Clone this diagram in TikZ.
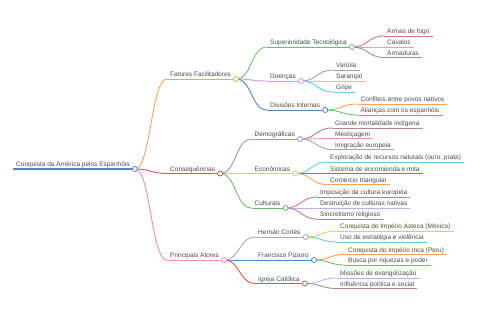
\documentclass[tikz,border=0pt]{standalone}
\usepackage{fontspec}
\setmainfont{Liberation Sans}
\usepackage{xcolor}
\usetikzlibrary{calc}

\definecolor{txtgray}{HTML}{4A4A4A}
\definecolor{cBlue}{HTML}{4F86C6}
\definecolor{cOrange}{HTML}{F5A45D}
\definecolor{cRed}{HTML}{D9534F}
\definecolor{cPink}{HTML}{E88BC8}
\definecolor{cGreen}{HTML}{6DBE6D}
\definecolor{cMagenta}{HTML}{E58FE0}
\definecolor{cRose}{HTML}{E0707E}
\definecolor{cLav}{HTML}{C8A8EC}
\definecolor{cMauve}{HTML}{B38590}
\definecolor{cTaupe}{HTML}{AFA09B}
\definecolor{cYel}{HTML}{D6D64A}
\definecolor{cCyan}{HTML}{63CFE3}
\definecolor{cPurple}{HTML}{A68FD8}
\definecolor{cGray}{HTML}{AAAAAA}

\begin{document}
\begin{tikzpicture}[x=1pt,y=-1pt,
			txt/.style={anchor=south west,font=\fontsize{6.5}{7}\selectfont,text=txtgray,
				inner xsep=3pt,inner ysep=0.6pt,text depth=1.6pt},
			ln/.style={line width=0.9pt},
			dot/.style={circle,draw,fill=white,line width=0.8pt,inner sep=0pt,minimum size=5pt},
			]
			\useasboundingbox (0,0) rectangle (480,320);
			
			% raiz
			\node[txt] (root) at (13,169) {Conquista da América pelos Espanhóis};
			\coordinate (root-o) at ($(root.south east)+(2,0)$);
			\draw[line width=1.2pt,cBlue] (root.south west) -- (root-o);
			
			% nivel 1
			\node[txt] (fat) at (167,79) {Fatores Facilitadores};
			\node[txt] (con) at (167,173.5) {Consequências};
			\node[txt] (pri) at (167,260) {Principais Atores};
			\foreach \n/\c in {fat/cOrange,con/cRed,pri/cPink}{
				\coordinate (\n-o) at ($(\n.south east)+(2,0)$);
				\draw[ln,\c] (\n.south west) -- (\n-o);
				\draw[ln,\c] (root-o) .. controls +(16,0) and +(-16,0) .. (\n.south west);
			}
			
			% nivel 2: fatores
			\node[txt] (sup) at (267,47) {Superioridade Tecnológica};
			\node[txt] (doe) at (267,81) {Doenças};
			\node[txt] (div) at (267,110) {Divisões Internas};
			% nivel 2: consequencias
			\node[txt] (dem) at (251.5,139) {Demográficas};
			\node[txt] (eco) at (251.5,173.5) {Econômicas};
			\node[txt] (cul) at (251.5,208) {Culturais};
			% nivel 2: atores
			\node[txt] (her) at (255,237) {Hernán Cortés};
			\node[txt] (piz) at (255,260) {Francisco Pizarro};
			\node[txt] (igr) at (255,283.5) {Igreja Católica};
			\foreach \p/\n/\c in {fat/sup/cGreen,fat/doe/cMagenta,fat/div/cBlue,
				con/dem/cPurple,con/eco/cYel,con/cul/cGreen,
				pri/her/cGray,pri/piz/cBlue,pri/igr/cRed}{
				\coordinate (\n-o) at ($(\n.south east)+(2,0)$);
				\draw[ln,\c] (\n.south west) -- (\n-o);
				\draw[ln,\c] (\p-o) .. controls +(16,0) and +(-16,0) .. (\n.south west);
			}
			
			% folhas
			\node[txt] (arm) at (384,36) {Armas de fogo};
			\node[txt] (cav) at (384,47) {Cavalos};
			\node[txt] (adu) at (384,57.5) {Armaduras};
			\node[txt] (var) at (333,70) {Varíola};
			\node[txt] (sar) at (333,81) {Sarampo};
			\node[txt] (gri) at (333,92) {Gripe};
			\node[txt] (cfl) at (357.5,104) {Conflitos entre povos nativos};
			\node[txt] (ali) at (357.5,115) {Alianças com os espanhóis};
			\node[txt] (gmi) at (332,128) {Grande mortalidade indígena};
			\node[txt] (mes) at (332,138.5) {Mestiçagem};
			\node[txt] (ime) at (332,149.5) {Imigração europeia};
			\node[txt] (exp) at (327,162) {Exploração de recursos naturais (ouro, prata)};
			\node[txt] (sis) at (327,173.5) {Sistema de encomienda e mita};
			\node[txt] (com) at (327,184.5) {Comércio triangular};
			\node[txt] (imp) at (317,197) {Imposição da cultura europeia};
			\node[txt] (des) at (317,208) {Destruição de culturas nativas};
			\node[txt] (sin) at (317,219) {Sincretismo religioso};
			\node[txt] (ast) at (337,231) {Conquista do Império Asteca (México)};
			\node[txt] (uso) at (337,242) {Uso de estratégia e violência};
			\node[txt] (inc) at (345,254.5) {Conquista do Império Inca (Peru)};
			\node[txt] (bus) at (345,265) {Busca por riquezas e poder};
			\node[txt] (mis) at (337,278) {Missões de evangelização};
			\node[txt] (inf) at (337,288.5) {Influência política e social};
			\foreach \p/\n/\c in {sup/arm/cRose,sup/cav/cLav,sup/adu/cMauve,
				doe/var/cTaupe,doe/sar/cYel,doe/gri/cCyan,
				div/cfl/cOrange,div/ali/cGreen,
				dem/gmi/cMauve,dem/mes/cMagenta,dem/ime/cTaupe,
				eco/exp/cCyan,eco/sis/cBlue,eco/com/cOrange,
				cul/imp/cRose,cul/des/cLav,cul/sin/cMauve,
				her/ast/cYel,her/uso/cCyan,
				piz/inc/cOrange,piz/bus/cGreen,
				igr/mis/cLav,igr/inf/cMauve}{
				\draw[ln,\c] (\n.south west) -- (\n.south east);
				\draw[ln,\c] (\p-o) .. controls +(16,0) and +(-16,0) .. (\n.south west);
			}
			
			% circulos
			\foreach \n/\c in {root/cBlue,fat/cOrange,con/cRed,pri/cPink,
				sup/cGreen,doe/cMagenta,div/cBlue,dem/cPurple,eco/cYel,cul/cGreen,
				her/cGray,piz/cBlue,igr/cRed}
			\node[dot,draw=\c] at (\n-o) {};
		\end{tikzpicture}
\end{document}
